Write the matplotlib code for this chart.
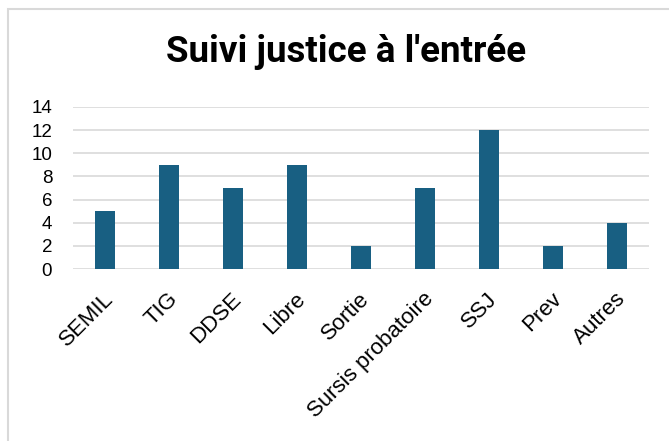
import matplotlib
matplotlib.use("Agg")
import matplotlib.pyplot as plt
import matplotlib.transforms as mtransforms
from matplotlib.patches import Rectangle

categories = ["SEMIL", "TIG", "DDSE", "Libre", "Sortie",
              "Sursis probatoire", "SSJ", "Prev", "Autres"]
values = [5, 9, 7, 9, 2, 7, 12, 2, 4]
yticks = [0, 2, 4, 6, 8, 10, 12, 14]

plt.rcParams['font.family'] = ['Liberation Sans', 'DejaVu Sans']

fig = plt.figure(figsize=(6.69, 4.41), dpi=100)
# chart frame
fig.patches.append(Rectangle((8 / 669, -0.1), 1.0, 1 - 9 / 441 + 0.1,
                             transform=fig.transFigure, fill=False,
                             edgecolor='#d9d9d9', linewidth=1.5))

ax = fig.add_axes([73 / 669, 1 - 269 / 441, (649 - 73) / 669, (269 - 107) / 441])
x = range(len(categories))
ax.bar(x, values, width=0.31, color='#185f82', zorder=3)
ax.set_xlim(-0.5, len(categories) - 0.5)
ax.set_ylim(0, 14)
ax.set_yticks(yticks)
ax.set_xticks(list(x))
ax.set_xticklabels(categories, rotation=45, ha='right', rotation_mode='anchor')
ax.tick_params(axis='y', length=0, labelsize=13.5, pad=15)
ax.tick_params(axis='x', length=0, labelsize=16, pad=14)
shift = mtransforms.ScaledTranslation(-2 / 100, 0, fig.dpi_scale_trans)
for lbl in ax.get_xticklabels():
    lbl.set_transform(lbl.get_transform() + shift)
ax.grid(axis='y', color='#d9d9d9', linewidth=1.2, zorder=0)
for s in ax.spines.values():
    s.set_visible(False)

fig.text(346 / 669, 1 - 62 / 441, "Suivi justice à l'entrée", ha='center', va='baseline',
         fontsize=26.5, fontweight='bold', family=['Roboto', 'DejaVu Sans'])

fig.savefig("out.png", dpi=100)
